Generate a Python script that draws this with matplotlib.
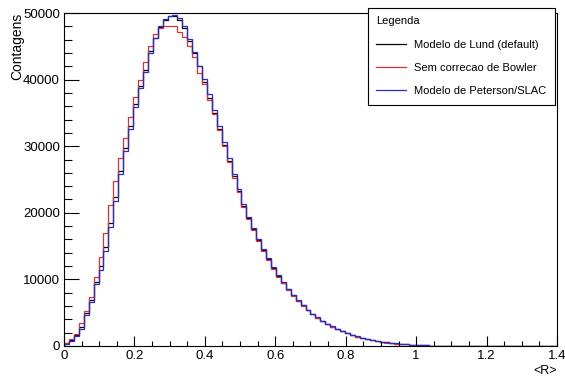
import numpy as np
import matplotlib.pyplot as plt
from matplotlib.ticker import MultipleLocator, FuncFormatter

plt.rcParams['font.family'] = ['Liberation Sans', 'DejaVu Sans']

# 100 bins between 0 and 1.4
edges = np.linspace(0, 1.4, 101)

lund = [400, 900, 1600, 2900, 4900, 6900, 9600, 12000, 14900, 18500,
        22300, 26300, 29800, 33000, 36300, 39000, 41500, 44300, 46300, 47900,
        49000, 49500, 49600, 49000, 47700, 45800, 44000, 42000, 39600, 37300,
        35000, 32600, 30200, 27800, 25500, 23300, 21000, 19200, 17500, 15900,
        14400, 13000, 11700, 10500, 9500, 8500, 7600, 6800, 6100, 5400,
        4800, 4250, 3750, 3300, 2900, 2550, 2200, 1900, 1650, 1420,
        1220, 1050, 890, 750, 630, 530, 440, 370, 300, 250,
        200, 160, 125, 95, 70, 50, 35, 20, 12, 8,
        5, 3, 2, 1, 1, 0, 0, 0, 0, 0,
        0, 0, 0, 0, 0, 0, 0, 0, 0, 0]

bowler = [450, 1000, 1800, 3400, 5200, 7300, 10300, 13300, 17000, 21200,
          24800, 28200, 31300, 34400, 37400, 39900, 42600, 45000, 46900, 47700,
          48000, 48100, 48100, 47100, 46400, 45000, 43400, 41000, 39300, 37000,
          34800, 32400, 30000, 27600, 25300, 23100, 20900, 19000, 17400, 15800,
          14300, 12900, 11600, 10400, 9400, 8400, 7500, 6800, 6050, 5350,
          4750, 4200, 3700, 3250, 2850, 2500, 2180, 1880, 1640, 1400,
          1200, 1030, 880, 740, 620, 520, 430, 360, 295, 245,
          195, 155, 120, 92, 68, 48, 33, 19, 11, 7,
          4, 3, 2, 1, 1, 0, 0, 0, 0, 0,
          0, 0, 0, 0, 0, 0, 0, 0, 0, 0]

peterson = [350, 800, 1500, 2600, 4600, 6600, 9300, 11400, 14300, 17900,
            21800, 25800, 29300, 32600, 35900, 38800, 41200, 44000, 46200, 48000,
            49100, 49600, 49700, 49300, 48100, 46100, 44200, 42100, 40100, 37800,
            35500, 33000, 30600, 28200, 25800, 23600, 21300, 19400, 17700, 16100,
            14600, 13150, 11800, 10600, 9600, 8600, 7700, 6900, 6150, 5450,
            4850, 4300, 3800, 3330, 2930, 2570, 2220, 1920, 1660, 1430,
            1230, 1060, 900, 760, 640, 540, 450, 375, 305, 255,
            205, 165, 128, 98, 72, 52, 36, 22, 13, 9,
            5, 3, 2, 1, 1, 0, 0, 0, 0, 0,
            0, 0, 0, 0, 0, 0, 0, 0, 0, 0]

labels = ['Modelo de Lund (default)', 'Sem correcao de Bowler', 'Modelo de Peterson/SLAC']
colors = ['black', '#e03030', '#2a2ac8']

fig = plt.figure(figsize=(5.65, 3.76), dpi=100)
ax = fig.add_axes([0.1133, 0.0798, 0.8725, 0.8856])

for vals, lab, c in zip([lund, bowler, peterson], labels, colors):
    ax.stairs(vals, edges, color=c, lw=0.9, label=lab)

ax.set_xlim(0, 1.4)
ax.set_ylim(0, 50000)

ax.xaxis.set_major_locator(MultipleLocator(0.2))
ax.xaxis.set_minor_locator(MultipleLocator(0.05))
ax.yaxis.set_major_locator(MultipleLocator(10000))
ax.yaxis.set_minor_locator(MultipleLocator(2000))
ax.xaxis.set_major_formatter(FuncFormatter(lambda v, p: '%g' % round(v, 3)))

ax.tick_params(axis='both', which='both', direction='in', labelsize=9.5, width=0.8)
ax.tick_params(axis='x', which='major', length=7.2, pad=3)
ax.tick_params(axis='x', which='minor', length=3.6)
ax.tick_params(axis='y', which='major', length=10.8, pad=3)
ax.tick_params(axis='y', which='minor', length=5.4)
for s in ax.spines.values():
    s.set_linewidth(0.8)

ax.set_ylabel('Contagens', loc='top', fontsize=10, labelpad=-1)
ax.set_xlabel('<R>', loc='right', fontsize=9, labelpad=2)

leg = ax.legend(title='Legenda', loc='upper right', bbox_to_anchor=(0.995, 1.015),
                fontsize=8, title_fontsize=8, fancybox=False, edgecolor='black',
                framealpha=1, handlelength=2.7, handletextpad=0.7,
                borderpad=0.75, borderaxespad=0, labelspacing=1.2,
                alignment='left')
leg.get_frame().set_linewidth(0.8)

fig.savefig('out.png', dpi=100)
